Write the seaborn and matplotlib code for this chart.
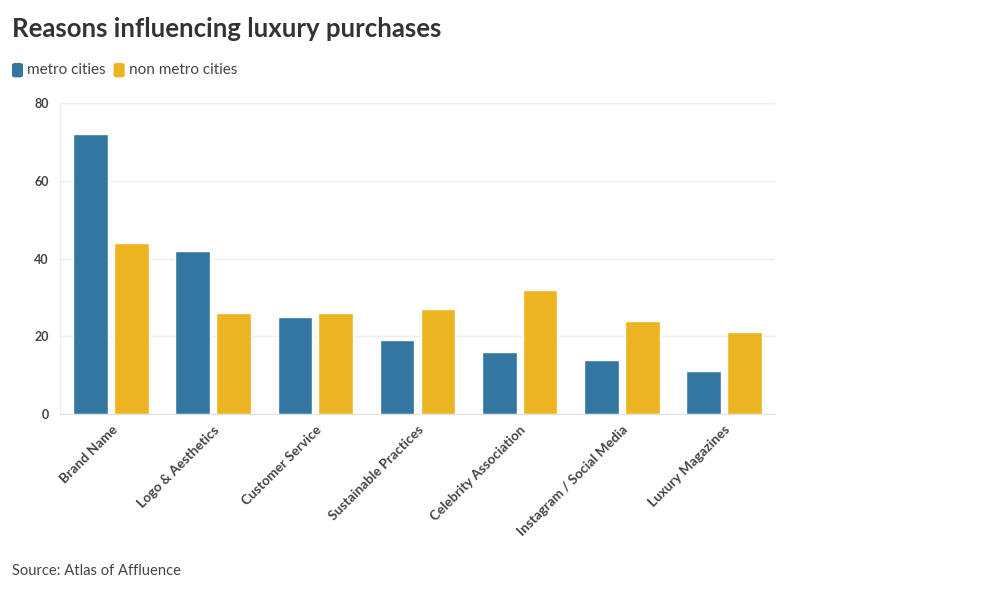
import pandas as pd
import matplotlib.pyplot as plt
import seaborn as sns
from matplotlib.patches import FancyBboxPatch

reasons = ['Brand Name', 'Logo & Aesthetics', 'Customer Service', 'Sustainable Practices',
           'Celebrity Association', 'Instagram / Social Media', 'Luxury Magazines']
metro = [72, 42, 25, 19, 16, 14, 11]
non_metro = [44, 26, 26, 27, 32, 24, 21]
groups = ['metro cities', 'non metro cities']
colors = ['#33769f', '#edb422']

df = pd.DataFrame({'reason': reasons * 2,
                   'value': metro + non_metro,
                   'group': [groups[0]] * len(reasons) + [groups[1]] * len(reasons)})

sns.set_style('white')
plt.rcParams['font.family'] = ['Lato', 'DejaVu Sans']

fig = plt.figure(figsize=(10, 6), dpi=100)
ax = fig.add_axes([0.06, 0.31, 0.715, 0.518])

sns.barplot(data=df, x='reason', y='value', hue='group', order=reasons, hue_order=groups,
            palette=colors, width=0.8, gap=0.15, ax=ax, legend=False, saturation=1)

ax.set_ylim(0, 80)
ax.set_xlim(-0.5, len(reasons) - 0.5)
ax.set_yticks([0, 20, 40, 60, 80])
ax.yaxis.grid(True, color='#eeeeee', linewidth=1)
ax.set_axisbelow(True)
ax.set_xlabel('')
ax.set_ylabel('')
for s in ['top', 'right']:
    ax.spines[s].set_visible(False)
ax.spines['left'].set_color('#eeeeee')
ax.spines['bottom'].set_color('#e0e0e0')
ax.tick_params(axis='y', length=0, pad=8, labelsize=9, labelcolor='#444444')
ax.tick_params(axis='x', length=5, color='#dddddd', pad=2, labelsize=9.7, labelcolor='#444444')
for lab in ax.get_yticklabels():
    lab.set_fontweight('bold')
plt.setp(ax.get_xticklabels(), rotation=45, ha='right', rotation_mode='anchor', fontweight='bold')

fig.text(0.012, 0.952, 'Reasons influencing luxury purchases', fontsize=18.5, fontweight='bold',
         color='#333333', va='center')

# legend
lx = 0.012
for g, c in zip(groups, colors):
    fig.patches.append(FancyBboxPatch((lx, 0.871), 0.011, 0.024, boxstyle='round,pad=0,rounding_size=0.003',
                                      transform=fig.transFigure, facecolor=c, edgecolor='none'))
    t = fig.text(lx + 0.015, 0.883, g, fontsize=11, color='#444444', va='center')
    fig.canvas.draw()
    bb = t.get_window_extent().transformed(fig.transFigure.inverted())
    lx = bb.x1 + 0.008

fig.text(0.012, 0.048, 'Source: Atlas of Affluence', fontsize=10.6, color='#444444', va='center')

fig.savefig('out.png', dpi=100)
